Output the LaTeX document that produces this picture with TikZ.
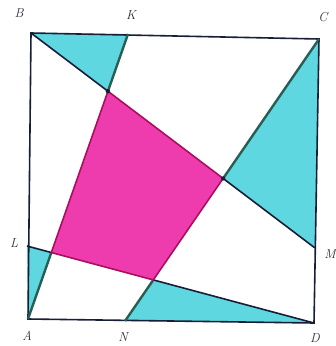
\documentclass[tikz,border=0pt]{standalone}
\begin{document}
\begin{tikzpicture}[x=1pt,y=-1pt,
  edge/.style={draw=navyline,line width=1.6pt},
  greenline/.style={draw=tealline,line width=2.4pt},
  quadedge/.style={draw=pinkedge,line width=1.6pt},
  lbl/.style={font=\fontsize{13}{13}\selectfont\itshape, text=labelgray}]
\definecolor{navyline}{RGB}{25,30,55}
\definecolor{tealline}{RGB}{40,95,85}
\definecolor{pinkedge}{RGB}{170,15,95}
\definecolor{cyanfill}{RGB}{95,215,225}
\definecolor{pinkfill}{RGB}{238,60,175}
\definecolor{labelgray}{RGB}{45,45,65}
\useasboundingbox (0,0) rectangle (336,346);
\fill[white] (0,0) rectangle (336,346);
\coordinate (A) at (28,319);
\coordinate (B) at (31,33);
\coordinate (C) at (319,39);
\coordinate (D) at (314,323);
\coordinate (K) at (128,34);
\coordinate (L) at (27,246);
\coordinate (M) at (315,248);
\coordinate (N) at (125,321);
\coordinate (P1) at (intersection of B--M and A--K);
\coordinate (P2) at (intersection of B--M and C--N);
\coordinate (P3) at (intersection of D--L and C--N);
\coordinate (P4) at (intersection of D--L and A--K);
% cyan triangles
\fill[cyanfill] (B) -- (K) -- (P1) -- cycle;
\fill[cyanfill] (C) -- (M) -- (P2) -- cycle;
\fill[cyanfill] (D) -- (N) -- (P3) -- cycle;
\fill[cyanfill] (A) -- (L) -- (P4) -- cycle;
% pink quadrilateral
\fill[pinkfill] (P1) -- (P2) -- (P3) -- (P4) -- cycle;
% square
\draw[edge] (A) -- (B) -- (C) -- (D) -- cycle;
% green lines
\draw[greenline] (A) -- (P4);
\draw[greenline] (P1) -- (K);
\draw[greenline] (C) -- (P2);
\draw[greenline] (P3) -- (N);
% navy lines
\draw[edge] (B) -- (P1);
\draw[edge] (P2) -- (M);
\draw[edge] (D) -- (P3);
\draw[edge] (P4) -- (L);
% quadrilateral edges
\draw[quadedge] (P1) -- (P2) -- (P3) -- (P4) -- cycle;
\fill[navyline] (P1) circle (2.2pt) (P2) circle (2.2pt);
% labels
\node[lbl] (lB) at (19,13) {B};
\node[lbl] (lK) at (131,15) {K};
\node[lbl] (lC) at (323,17) {C};
\node[lbl] (lL) at (14,243) {L};
\node[lbl] (lM) at (330,254) {M};
\node[lbl] (lA) at (27,336) {A};
\node[lbl] (lN) at (123,337) {N};
\node[lbl] (lD) at (315,338) {D};
\end{tikzpicture}
\end{document}
